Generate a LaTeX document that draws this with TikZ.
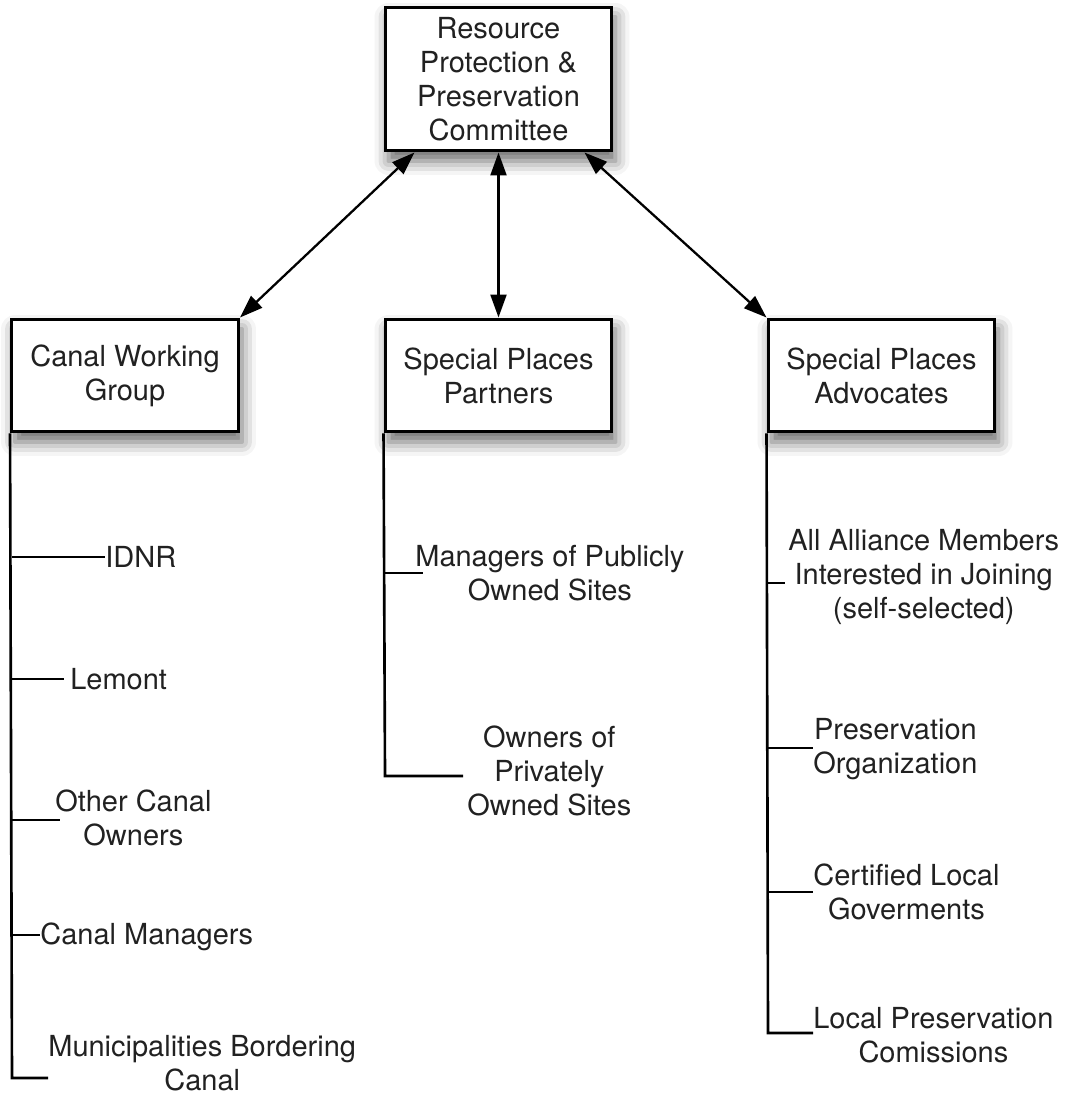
\documentclass[tikz,border=0pt]{standalone}
\usepackage{fontspec}
\setmainfont{TeX Gyre Heros}
\usetikzlibrary{arrows.meta,shadows.blur}

\begin{document}
\begin{tikzpicture}[x=0.02cm, y=-0.02cm,
    font=\fontsize{16.5pt}{19.4pt}\selectfont, text=black!87,
    unit/.style={draw, line width=1.7pt, fill=white, minimum width=4.54cm, align=center, inner sep=0pt,
      blur shadow={shadow xshift=0.07cm, shadow yshift=-0.2cm, shadow blur radius=0.28cm, shadow opacity=60}},
    member/.style={anchor=west, align=center, inner sep=0pt},
    link/.style={line width=1.3pt, {Triangle[length=0.46cm,width=0.32cm]}-{Triangle[length=0.46cm,width=0.32cm]}},
    trunk/.style={line width=1.5pt}]
\useasboundingbox (0,0) rectangle (1066,1095);

% committee and the three groups
\node[unit, minimum height=2.88cm] (rppc) at (498.5,79) {Resource\\Protection \&\\Preservation\\Committee};
\node[unit, minimum height=2.26cm] (cwg) at (125,375.5) {Canal Working\\Group};
\node[unit, minimum height=2.26cm] (spp) at (498.5,375.5) {Special Places\\Partners};
\node[unit, minimum height=2.26cm] (spa) at (881.5,375.5) {Special Places\\Advocates};

\draw[link] ([xshift=0.62cm]rppc.south west) -- (cwg.north east);
\draw[link] (rppc.south) -- (spp.north);
\draw[link] ([xshift=-0.58cm]rppc.south east) -- (spa.north west);

% members
\node[member] (idnr) at (105,557) {IDNR};
\node[member] (lemont) at (70,679) {Lemont};
\node[member] (other) at (55,818) {Other Canal\\Owners};
\node[member] (canalmgr) at (40,937) {Canal Managers};
\node[member] (muni) at (48,1063) {Municipalities Bordering\\Canal};

\node[member] (mgrpub) at (415,573) {Managers of Publicly\\Owned Sites};
\node[member] (ownpriv) at (467,771) {Owners of\\Privately\\Owned Sites};

\node[member] (alliance) at (788,577) {All Alliance Members\\Interested in Joining\\(self-selected)};
\node[member] (presorg) at (813,749) {Preservation\\Organization};
\node[member] (certloc) at (813,892) {Certified Local\\Goverments};
\node[member] (localpres) at (813,1035) {Local Preservation\\Comissions};

% trunks and branches
\coordinate (l1) at (12,557);
\coordinate (l2) at (12,679);
\coordinate (l3) at (12,820);
\coordinate (l4) at (12,935);
\coordinate (l5) at (12,1078);
\coordinate (m1) at (385,573);
\coordinate (m2) at (385,776);
\coordinate (r1) at (768,583);
\coordinate (r2) at (768,748);
\coordinate (r3) at (768,892);
\coordinate (r4) at (768,1033);

\draw[trunk] (cwg.south west) -- (l5) -- (l5 -| muni.west);
\draw[trunk, shorten >=0.08cm] (spp.south west) -- (m2) -- (m2 -| ownpriv.west);
\draw[trunk] (spa.south west) -- (r4) -- (r4 -| localpres.west);

\foreach \c/\n/\s in {l1/idnr/0, l2/lemont/0.12, l3/other/-0.1, l4/canalmgr/0,
    m1/mgrpub/-0.16, r1/alliance/0.06, r2/presorg/0, r3/certloc/0}
  \draw[trunk, shorten >=\s cm] (\c) -- (\c -| \n.west);
\end{tikzpicture}
\end{document}
